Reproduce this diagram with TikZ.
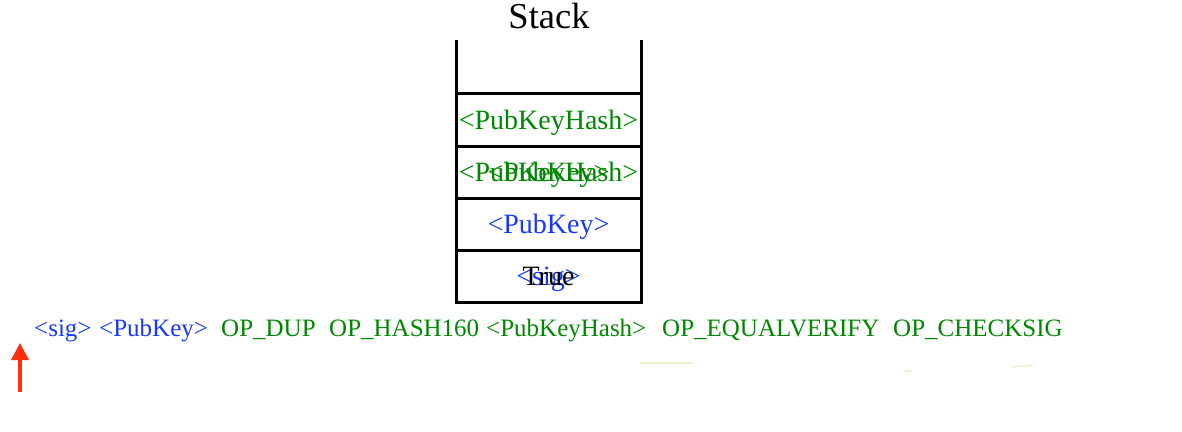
\documentclass[tikz,border=0pt]{standalone}
\usepackage{fontspec}
\setmainfont{Liberation Serif}
\usetikzlibrary{arrows.meta}
\definecolor{tokblue}{RGB}{25,55,250}
\definecolor{tokgreen}{RGB}{0,135,0}
\definecolor{arrred}{RGB}{255,45,10}
\definecolor{faint}{RGB}{236,240,205}
\tikzset{
  stackline/.style={line width=3pt, black},
  celltext/.style={anchor=base, inner sep=0pt, font=\fontsize{28}{30}\selectfont},
  token/.style={anchor=base west, inner sep=0pt, font=\fontsize{25}{27}\selectfont},
  title/.style={anchor=base, inner sep=0pt, font=\fontsize{36.5}{38}\selectfont},
  pointer/.style={arrred, line width=3.6pt, -{Triangle[width=17pt,length=17pt]}},
  smudge/.style={faint, line width=1.5pt}
}
\begin{document}
\begin{tikzpicture}[x=1pt,y=-1pt]
\useasboundingbox (0,0) rectangle (1182,431);
% title
\node[title] (stacktitle) at (549,28) {Stack};
% stack frame
\coordinate (tl) at (456,40);
\coordinate (tr) at (641,40);
\coordinate (bl) at (456,302);
\coordinate (br) at (641,302);
\draw[stackline] (tl) -- (bl) -- (br) -- (tr);
\foreach \yy in {93,146,198,250}{
  \draw[stackline] (456,\yy) -- (641,\yy);
}
% cell contents
\node[celltext, tokgreen] (c1) at (548.5,129) {<PubKeyHash>};
\node[celltext, tokgreen] (c2a) at (548.5,181.5) {<PubKeyHash>};
\node[celltext, tokgreen] (c2b) at (548.5,181.5) {<PubKey>};
\node[celltext, tokblue] (c3) at (548.5,233.5) {<PubKey>};
\node[celltext, tokblue] (c4a) at (548.5,285.5) {<sig>};
\node[celltext, black] (c4b) at (548.5,285.5) {True};
% script tokens
\node[token, tokblue] (t1) at (34,336) {<sig>};
\node[token, tokblue] (t2) at (99,336) {<PubKey>};
\node[token, tokgreen] (t3) at (221,336) {OP\_DUP};
\node[token, tokgreen] (t4) at (329,336) {OP\_HASH160};
\node[token, tokgreen] (t5) at (486,336) {<PubKeyHash>};
\node[token, tokgreen] (t6) at (662,336) {OP\_EQUALVERIFY};
\node[token, tokgreen] (t7) at (893,336) {OP\_CHECKSIG};
% pointer arrow
\coordinate (ptail) at (20,392);
\coordinate (phead) at (20,343);
\draw[pointer] (ptail) -- (phead);
% faint smudges
\draw[smudge] (640,363) -- (693,363);
\draw[smudge] (1012,367) -- (1033,365);
\draw[smudge] (905,371) -- (912,371);
\end{tikzpicture}
\end{document}
